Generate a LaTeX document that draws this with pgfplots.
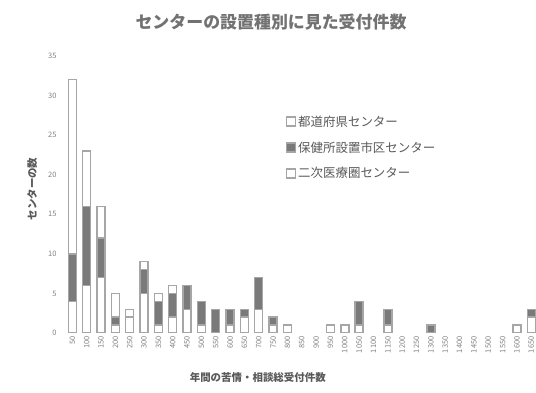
\documentclass[border=0pt]{standalone}
\usepackage{fontspec}
\setmainfont{Noto Sans CJK JP}
\usepackage{pgfplots}
\pgfplotsset{compat=1.18}
\definecolor{txt}{HTML}{595959}
\definecolor{dark}{HTML}{7A7A7A}
\definecolor{edge}{HTML}{A6A6A6}
\begin{document}
\begin{tikzpicture}
\useasboundingbox (0,0) rectangle (536bp,393bp);
\node[font=\fontsize{17}{17}\selectfont\bfseries, text=txt!85] at (271bp,371bp) {センターの設置種別に見た受付件数};
\begin{axis}[
  at={(58bp,60bp)}, anchor=south west, scale only axis,
  width=478bp, height=277bp,
  xmin=0, xmax=33.33, ymin=0, ymax=35,
  ybar stacked, bar width=8bp,
  axis line style={draw=none},
  tick style={draw=none},
  ytick={0,5,...,35},
  xtick={1,...,33},
  xticklabels={50,100,150,200,250,300,350,400,450,500,550,600,650,700,750,800,850,900,950,1000,1050,1100,1150,1200,1250,1300,1350,1400,1450,1500,1550,1600,1650},
  /pgf/number format/assume math mode=true,
  yticklabel style={font=\fontsize{7.5}{7.5}\selectfont, text=gray, xshift=2bp},
  xticklabel style={rotate=90, anchor=east, font=\fontsize{7.5}{7.5}\selectfont, text=gray},
  ylabel={センターの数},
  ylabel style={at={(axis description cs:-0.054,0.52)}, anchor=center, font=\fontsize{10.5}{10.5}\selectfont\bfseries, text=txt},
  xlabel={年間の苦情・相談総受付件数},
  xlabel style={at={(axis description cs:0.418,-0.162)}, anchor=center, font=\fontsize{10.5}{10.5}\selectfont\bfseries, text=txt},
  legend style={at={(0.47,0.80)}, anchor=north west, draw=none, fill=none,
    font=\fontsize{12.5}{12.5}\selectfont, text=txt, row sep=10bp},
  legend cell align=left,
  legend image code/.code={\draw[#1] (0bp,-4.5bp) rectangle (9bp,4.5bp);},
]
\addplot[fill=white, draw=edge, line width=1.4pt] coordinates {
(1,4) (2,6) (3,7) (4,1) (5,2) (6,5) (7,1) (8,2) (9,3) (10,1) (11,0) (12,1) (13,2) (14,3) (15,1) (16,1)
(19,1) (20,1) (21,1) (23,1) (26,0) (32,1) (33,2)};
\addplot[fill=dark, draw=edge, line width=1.4pt] coordinates {
(1,6) (2,10) (3,5) (4,1) (5,0) (6,3) (7,3) (8,3) (9,3) (10,3) (11,3) (12,2) (13,1) (14,4) (15,1) (16,0)
(19,0) (20,0) (21,3) (23,2) (26,1) (32,0) (33,1)};
\addplot[fill=white, draw=edge, line width=1.4pt] coordinates {
(1,22) (2,7) (3,4) (4,3) (5,1) (6,1) (7,1) (8,1) (9,0) (10,0) (11,0) (12,0) (13,0) (14,0) (15,0) (16,0)
(19,0) (20,0) (21,0) (23,0) (26,0) (32,0) (33,0)};
\legend{都道府県センター,保健所設置市区センター,二次医療圏センター}
\end{axis}
\end{tikzpicture}
\end{document}
